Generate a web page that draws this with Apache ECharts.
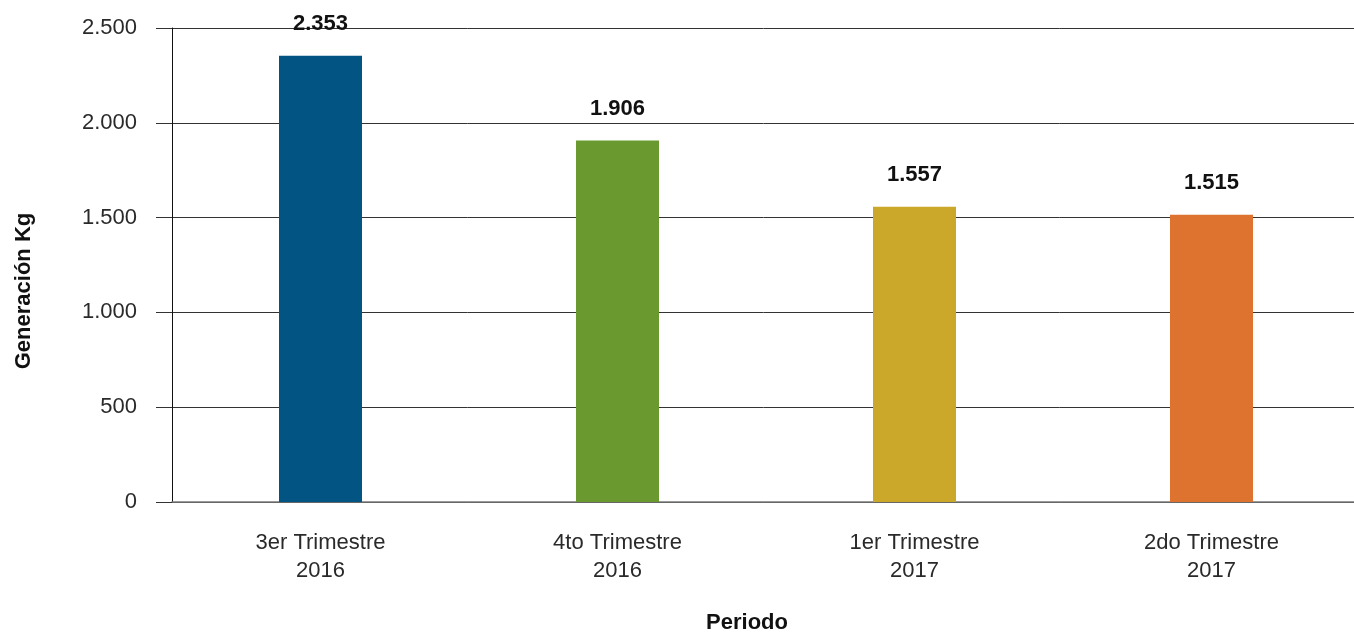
<!DOCTYPE html>
<html><head><meta charset="utf-8">
<script src="https://cdn.jsdelivr.net/npm/echarts@6/dist/echarts.min.js"></script>
<style>html,body{margin:0;padding:0;background:#fff;overflow:hidden}#c{width:1354px;height:632px}</style>
</head><body><div id="c"></div>
<script>
const categories = ['3er Trimestre\n2016', '4to Trimestre\n2016', '1er Trimestre\n2017', '2do Trimestre\n2017'];
const values = [2353, 1906, 1557, 1515];
const barColors = ['#025582', '#6a9a2f', '#cba82a', '#de7330'];
const yTicks = { min: 0, max: 2500, interval: 500 };

const fmt = v => String(v).replace(/\B(?=(\d{3})+(?!\d))/g, '.');
const font = '"Liberation Sans", Arial, sans-serif';

const chart = echarts.init(document.getElementById('c'));
chart.setOption({
  animation: false,
  grid: { left: 172, right: -6, top: 28, bottom: 130, outerBoundsMode: 'none', containLabel: false },
  xAxis: {
    type: 'category', data: categories,
    name: 'Periodo', nameLocation: 'middle', nameGap: 110,
    nameTextStyle: { fontFamily: font, fontSize: 22, fontWeight: 'bold', color: '#111', padding: [0, 38, 0, 0] },
    axisLine: { show: true, lineStyle: { color: '#7a7a7a', width: 1.5 } },
    axisTick: { show: false },
    axisLabel: { fontFamily: font, fontSize: 22, color: '#2a2a2a', margin: 27, lineHeight: 28 }
  },
  yAxis: {
    type: 'value', min: yTicks.min, max: yTicks.max, interval: yTicks.interval,
    name: 'Generación Kg', nameLocation: 'middle', nameGap: 137,
    nameTextStyle: { fontFamily: font, fontSize: 22, fontWeight: 'bold', color: '#111', padding: [0, 0, 0, -52] },
    axisLine: { show: true, lineStyle: { color: '#111', width: 1 } },
    axisTick: { show: true, length: 16, lineStyle: { color: '#333' } },
    splitLine: { show: true, lineStyle: { color: '#333', width: 1 } },
    axisLabel: { fontFamily: font, fontSize: 22, color: '#2a2a2a', margin: 35, formatter: v => fmt(v) }
  },
  series: [{
    type: 'bar', barWidth: 83,
    data: values.map((v, i) => ({ value: v, itemStyle: { color: barColors[i] } })),
    label: { show: true, position: 'top', distance: 21, fontFamily: font, fontSize: 22, fontWeight: 'bold', color: '#111', formatter: p => fmt(p.value) }
  }]
});
</script></body></html>
